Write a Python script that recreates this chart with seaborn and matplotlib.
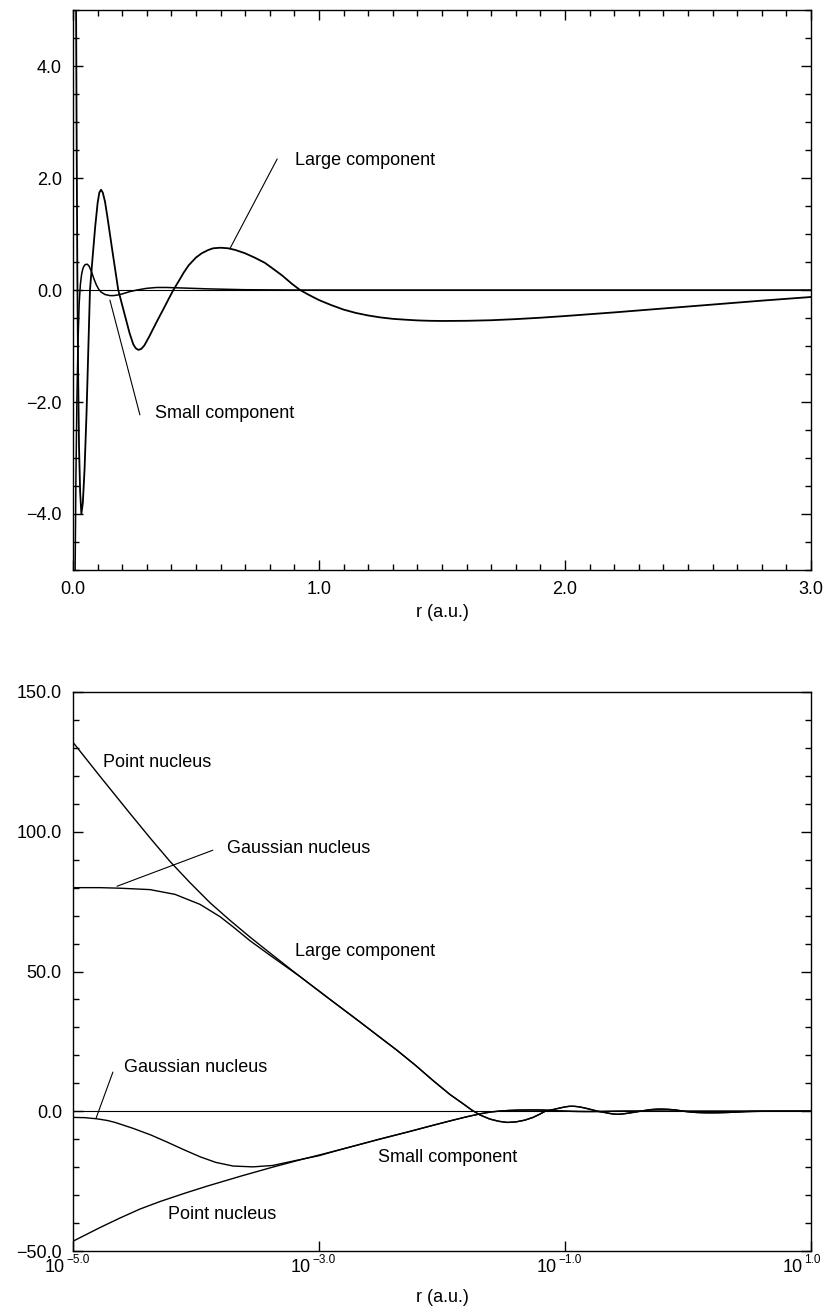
import numpy as np
import matplotlib
matplotlib.use("Agg")
import matplotlib.pyplot as plt
from matplotlib.ticker import MultipleLocator, FuncFormatter, FixedLocator, NullLocator, NullFormatter
from matplotlib.transforms import blended_transform_factory, ScaledTranslation
import seaborn as sns

# Large component, point nucleus (r in a.u.)
r_large = [1e-5, 1.66e-5, 2.9e-5, 4.23e-5, 6.14e-5, 8.93e-5, 1.3e-4, 1.89e-4, 2.75e-4,
           4.0e-4, 7.0e-4, 1.23e-3, 2.16e-3, 3.1e-3, 4.31e-3, 6.1e-3, 8.45e-3, 0.0116,
           0.0145, 0.0175, 0.0203, 0.0245, 0.029, 0.034, 0.04, 0.047, 0.055, 0.062,
           0.069, 0.08, 0.09, 0.1, 0.107, 0.114, 0.121, 0.13, 0.14, 0.15, 0.16, 0.172,
           0.184, 0.2, 0.215, 0.23, 0.245, 0.255, 0.266, 0.278, 0.29, 0.31, 0.34, 0.37,
           0.39, 0.408, 0.43, 0.45, 0.47, 0.5, 0.523, 0.55, 0.57, 0.6, 0.63, 0.66, 0.7,
           0.74, 0.78, 0.813, 0.85, 0.89, 0.923, 0.96, 1.0, 1.05, 1.1, 1.15, 1.2, 1.25,
           1.3, 1.35, 1.4, 1.45, 1.5, 1.6, 1.7, 1.8, 1.9, 2.0, 2.2, 2.4, 2.6, 2.8, 3.0,
           3.5, 4.0, 5.0, 7.0, 10.0]
large_point = [132.0, 119.8, 106.6, 97.8, 89.4, 81.8, 74.6, 68.3, 62.3,
               56.6, 48.2, 40.0, 31.9, 26.6, 21.8, 16.4, 11.0, 6.0,
               3.0, 0.4, -1.3, -2.8, -3.6, -4.0, -3.8, -3.2, -2.2, -1.1,
               0.0, 0.6, 1.12, 1.55, 1.74, 1.79, 1.74, 1.58, 1.3, 1.0, 0.7, 0.35,
               0.0, -0.27, -0.52, -0.77, -0.97, -1.04, -1.07, -1.05, -0.99, -0.83, -0.57, -0.32,
               -0.15, 0.0, 0.16, 0.31, 0.44, 0.58, 0.655, 0.715, 0.745, 0.755, 0.745, 0.715, 0.655,
               0.575, 0.485, 0.38, 0.26, 0.11, 0.0, -0.09, -0.18, -0.27, -0.35, -0.41, -0.455, -0.49,
               -0.515, -0.53, -0.543, -0.55, -0.553, -0.55, -0.54, -0.52, -0.495, -0.465, -0.4, -0.33, -0.26, -0.19, -0.125,
               -0.05, -0.02, 0.0, 0.0, 0.0]

# Large component, Gaussian nucleus (inner part, joins the point curve afterwards)
r_large_gauss = [1e-5, 1.66e-5, 2.41e-5, 4.23e-5, 6.75e-5, 1.08e-4, 1.57e-4, 2.0e-4, 2.75e-4, 4.0e-4]
large_gauss = [80.0, 80.0, 79.8, 79.3, 77.6, 74.0, 69.6, 66.0, 61.0, 55.8]

# Small component, point nucleus
r_small = [1e-5, 1.66e-5, 2.41e-5, 3.5e-5, 5.1e-5, 8.14e-5, 1.23e-4, 2.32e-4, 4.2e-4,
           7.0e-4, 1.47e-3, 3.1e-3, 5.5e-3, 8e-3, 0.012, 0.0158, 0.0205, 0.025, 0.03,
           0.035, 0.04, 0.045, 0.05, 0.058, 0.065, 0.075, 0.085, 0.095, 0.105, 0.115,
           0.13, 0.15, 0.165, 0.18, 0.2, 0.23, 0.26, 0.3, 0.34, 0.38, 0.45, 0.55, 0.7,
           0.9, 3.0, 10.0]
small_point = [-46.5, -41.6, -38.2, -35.0, -32.3, -29.3, -26.8, -23.2, -20.0,
               -17.4, -13.8, -10.0, -7.2, -5.3, -3.3, -2.0, -0.9, -0.25, 0.1,
               0.28, 0.38, 0.43, 0.455, 0.46, 0.43, 0.33, 0.2, 0.09, 0.01, -0.04,
               -0.08, -0.1, -0.1, -0.09, -0.07, -0.03, 0.0, 0.03, 0.045, 0.045, 0.035, 0.02, 0.005,
               0.0, 0.0, 0.0]

# Small component, Gaussian nucleus (inner part)
r_small_gauss = [1e-5, 1.25e-5, 1.56e-5, 1.9e-5, 2.2e-5, 3.07e-5, 4.3e-5, 5.8e-5, 8e-5,
                 1.08e-4, 1.45e-4, 2.0e-4, 2.9e-4, 4.2e-4, 7.0e-4, 1.0e-3]
small_gauss = [-2.2, -2.3, -2.7, -3.3, -4.0, -6.1, -8.5, -11.0, -13.8,
               -16.3, -18.3, -19.6, -19.9, -19.4, -17.3, -15.9]


def join(r_in, v_in, r_out, v_out):
    rr = list(r_in) + [x for x in r_out if x > r_in[-1]]
    vv = list(v_in) + [v for x, v in zip(r_out, v_out) if x > r_in[-1]]
    return rr, vv


r_lg, v_lg = join(r_large_gauss, large_gauss, r_large, large_point)
r_sg, v_sg = join(r_small_gauss, small_gauss, r_small, small_point)

sns.set_style("ticks")
plt.rcParams['font.family'] = ['Liberation Sans', 'DejaVu Sans']
for key in ['text.color', 'axes.labelcolor', 'xtick.color', 'ytick.color', 'axes.edgecolor']:
    plt.rcParams[key] = 'black'

fs = 13
fig = plt.figure(figsize=(8.26, 13.09), dpi=100)
ax1 = fig.add_axes([73 / 826, 1 - 570 / 1309, 738 / 826, 560 / 1309])
ax2 = fig.add_axes([73 / 826, 1 - 1251 / 1309, 738 / 826, 559 / 1309])

minus = FuncFormatter(lambda v, p: ("%.1f" % v).replace("-", "\u2212"))

# ---- top panel: linear r ----
ax1.axhline(0, color='black', lw=0.8)
sns.lineplot(x=r_large, y=large_point, ax=ax1, color='black', lw=1.3, sort=False, estimator=None)
sns.lineplot(x=r_small, y=small_point, ax=ax1, color='black', lw=1.1, sort=False, estimator=None)
ax1.set_xlim(0, 3.0)
ax1.set_ylim(-5, 5)
ax1.xaxis.set_major_locator(MultipleLocator(1.0))
ax1.xaxis.set_minor_locator(MultipleLocator(0.1))
ax1.yaxis.set_major_locator(MultipleLocator(2.0))
ax1.yaxis.set_minor_locator(MultipleLocator(0.5))
ax1.xaxis.set_major_formatter(minus)
ax1.yaxis.set_major_formatter(minus)
ax1.tick_params(which='both', direction='in', top=True, right=True, labelsize=fs, width=1, pad=8)
ax1.tick_params(which='major', length=7)
ax1.tick_params(which='minor', length=4)
ax1.set_xlabel("r (a.u.)", fontsize=fs, labelpad=4)

ax1.plot([0.83, 0.638], [2.34, 0.74], color='black', lw=0.8)
ax1.text(0.902, 2.32, "Large component", fontsize=fs, va='center', ha='left')
ax1.plot([0.150, 0.272], [-0.18, -2.23], color='black', lw=0.8)
ax1.text(0.333, -2.2, "Small component", fontsize=fs, va='center', ha='left')

# ---- bottom panel: log r ----
ax2.axhline(0, color='black', lw=0.8)
for rr, vv in [(r_large, large_point), (r_lg, v_lg), (r_small, small_point), (r_sg, v_sg)]:
    sns.lineplot(x=rr, y=vv, ax=ax2, color='black', lw=1.0, sort=False, estimator=None)
ax2.set_xscale('log')
ax2.set_xlim(1e-5, 10)
ax2.set_ylim(-50, 150)
log_ticks = [1e-5, 1e-3, 1e-1, 1e1]
ax2.xaxis.set_major_locator(FixedLocator(log_ticks))
ax2.xaxis.set_minor_locator(NullLocator())
ax2.xaxis.set_major_formatter(NullFormatter())
ax2.yaxis.set_major_locator(MultipleLocator(50.0))
ax2.yaxis.set_minor_locator(MultipleLocator(10.0))
ax2.yaxis.set_major_formatter(minus)
ax2.tick_params(which='both', direction='in', right=True, labelsize=fs, width=1)
ax2.tick_params(axis='y', pad=8)
ax2.tick_params(which='major', length=7)
ax2.tick_params(which='minor', length=4)
ax2.set_xlabel("r (a.u.)", fontsize=fs, labelpad=24)

# decade labels: "10" with a small raised exponent
trans = blended_transform_factory(ax2.transData, ax2.transAxes)
for t in log_ticks:
    base = trans + ScaledTranslation(-8 / 100, -17 / 100, fig.dpi_scale_trans)
    sup = trans + ScaledTranslation(-7 / 100, -9 / 100, fig.dpi_scale_trans)
    ax2.text(t, 0, "10", transform=base, fontsize=fs, ha='right', va='center')
    ax2.text(t, 0, ("%.1f" % np.log10(t)).replace("-", "\u2212"), transform=sup,
             fontsize=8.5, ha='left', va='center')

ax2.text(1.75e-5, 124.9, "Point nucleus", fontsize=fs, va='center', ha='left')
ax2.plot([2.28e-5, 1.37e-4], [80.5, 93.4], color='black', lw=0.8)
ax2.text(1.79e-4, 94.1, "Gaussian nucleus", fontsize=fs, va='center', ha='left')
ax2.text(6.4e-4, 57.0, "Large component", fontsize=fs, va='center', ha='left')
ax2.plot([1.54e-5, 2.11e-5], [-2.5, 14.0], color='black', lw=0.8)
ax2.text(2.6e-5, 15.7, "Gaussian nucleus", fontsize=fs, va='center', ha='left')
ax2.text(3.0e-3, -16.5, "Small component", fontsize=fs, va='center', ha='left')
ax2.text(5.9e-5, -36.9, "Point nucleus", fontsize=fs, va='center', ha='left')

for ax in (ax1, ax2):
    for s in ax.spines.values():
        s.set_linewidth(1.0)
        s.set_color('black')

fig.savefig("out.png", dpi=100)
